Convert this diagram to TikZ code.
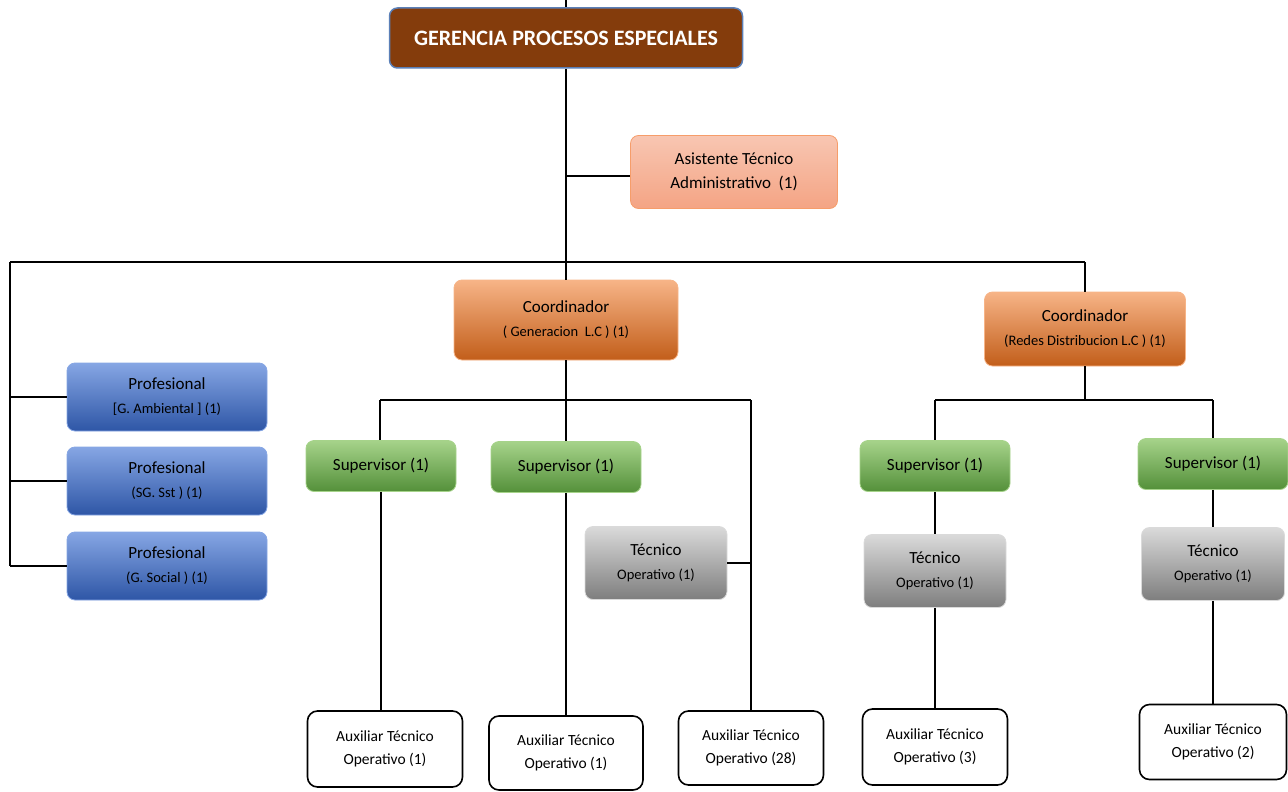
\documentclass[tikz,border=0pt]{standalone}
\usepackage{fontspec}
\setmainfont{Carlito}
\usetikzlibrary{positioning,shadings}
\definecolor{gerbrown}{HTML}{843C0C}
\definecolor{gerblue}{HTML}{5B80B8}
\definecolor{astop}{HTML}{F8C6B2}
\definecolor{asbot}{HTML}{F4A484}
\definecolor{cotop}{HTML}{F7B487}
\definecolor{comid}{HTML}{EE8540}
\definecolor{cobot}{HTML}{C25E1A}
\definecolor{prtop}{HTML}{86A6E4}
\definecolor{prbot}{HTML}{2E56A6}
\definecolor{sptop}{HTML}{A6D38A}
\definecolor{spbot}{HTML}{54903A}
\definecolor{tctop}{HTML}{DADADA}
\definecolor{tcbot}{HTML}{7E7E7E}
\newcommand{\sm}{\fontsize{14.5}{17}\selectfont}

\begin{document}
\begin{tikzpicture}[x=1pt,y=-1pt,line width=1.6pt,
        box/.style={rounded corners=8pt,align=center,inner sep=0pt,line width=0.8pt,
            font=\fontsize{17}{24}\selectfont},
        gerbox/.style={box,fill=gerbrown,draw=gerblue,line width=1.5pt,text=white,
            font=\fontsize{22}{24}\selectfont\bfseries,minimum width=353pt,minimum height=60pt},
        asbox/.style={box,top color=astop,bottom color=asbot,
            draw=asbot!80!orange,minimum width=207pt,minimum height=73pt},
        cobox/.style={box,top color=cotop,middle color=comid,bottom color=cobot,draw=cotop},
        prbox/.style={box,top color=prtop,bottom color=prbot,
            draw=prtop,minimum width=200pt,minimum height=68pt},
        spbox/.style={box,top color=sptop,bottom color=spbot,
            draw=sptop,minimum width=150pt,minimum height=51pt},
        tcbox/.style={box,top color=tctop,bottom color=tcbot,draw=tctop,
            minimum width=142pt,minimum height=73pt},
        axbox/.style={box,fill=white,draw=black,line width=1.6pt,rounded corners=10pt,
            font=\fontsize{15.5}{23}\selectfont,minimum width=152pt,minimum height=75pt}]
        \useasboundingbox (0,0) rectangle (1288,792);
        \node(G) [gerbox] at (566,38) {GERENCIA PROCESOS ESPECIALES};
        \node(AT) [asbox] at (734,172) {Asistente Técnico\\Administrativo\ \ (1)};
        \node(C1) [cobox,minimum width=224pt,minimum height=80pt] at (566,320)
            {Coordinador\\{\sm ( Generacion\ \ L.C ) (1)}};
        \node(C2) [cobox,minimum width=201pt,minimum height=74pt] at (1085,329)
            {Coordinador\\{\sm (Redes Distribucion L.C ) (1)}};
        \node(P1) [prbox] at (167,397) {Profesional\\{\sm [G. Ambiental ] (1)}};
        \node(P2) [prbox] at (167,481) {Profesional\\{\sm (SG. Sst ) (1)}};
        \node(P3) [prbox] at (167,566) {Profesional\\{\sm (G. Social ) (1)}};
        \node(S1) [spbox] at (381,466) {Supervisor (1)};
        \node(S2) [spbox] at (566,467) {Supervisor (1)};
        \node(S3) [spbox] at (935,466) {Supervisor (1)};
        \node(S4) [spbox] at (1213,464) {Supervisor (1)};
        \node(T1) [tcbox] at (656,563) {Técnico\\{\sm Operativo (1)}};
        \node(T2) [tcbox] at (935,571) {Técnico\\{\sm Operativo (1)}};
        \node(T3) [tcbox,minimum width=143pt] at (1213,564) {Técnico\\{\sm Operativo (1)}};
        \node(X1) [axbox,minimum width=155pt,minimum height=76pt] at (385,749) {Auxiliar Técnico\\Operativo (1)};
        \node(X2) [axbox,minimum width=154pt,minimum height=74pt] at (566,753) {Auxiliar Técnico\\Operativo (1)};
        \node(X3) [axbox,minimum width=145pt,minimum height=74pt] at (751,748) {Auxiliar Técnico\\Operativo (28)};
        \node(X4) [axbox,minimum width=145pt,minimum height=76pt] at (935,747) {Auxiliar Técnico\\Operativo (3)};
        \node(X5) [axbox,minimum width=147pt,minimum height=75pt] at (1213,742) {Auxiliar Técnico\\Operativo (2)};
        \coordinate(top) at (566,0);
        \coordinate(B) at (566,262);
        \coordinate(BL) at (10,262);
        \coordinate(BR) at (1085,262);
        \coordinate(H1) at (566,400);
        \coordinate(H1L) at (380,400);
        \coordinate(H1R) at (751,400);
        \coordinate(H2) at (1085,400);
        \coordinate(H2L) at (935,400);
        \coordinate(H2R) at (1213,400);
        \draw(top) -- (G.north);
        \draw(G.south) -- (B);
        \draw(G.south |- 0,176) -- (AT.west |- 0,176);
        \draw(BL) -- (BR);
        \draw(B) -- (C1.north);
        \draw(BR) -- (C2.north);
        \draw(BL) -- (BL |- P3.west);
        \foreach \p in {P1,P2,P3}
            \draw(BL |- \p.west) -- (\p.west);
        \draw(C1.south) -- (H1);
        \draw(H1L) -- (H1R);
        \draw(H1L) -- (H1L |- S1.north);
        \draw(H1) -- (S2.north);
        \draw(H1R) -- (X3.north);
        \draw(T1.east) -- (T1.east -| H1R);
        \draw(S1.south) -- (S1.south |- X1.north);
        \draw(S2.south) -- (X2.north);
        \draw(C2.south) -- (H2);
        \draw(H2L) -- (H2R);
        \draw(H2L) -- (S3.north);
        \draw(H2R) -- (S4.north);
        \draw(S3) -- (T2);
        \draw(T2) -- (X4);
        \draw(S4) -- (T3);
        \draw(T3) -- (X5);
    \end{tikzpicture}
\end{document}
